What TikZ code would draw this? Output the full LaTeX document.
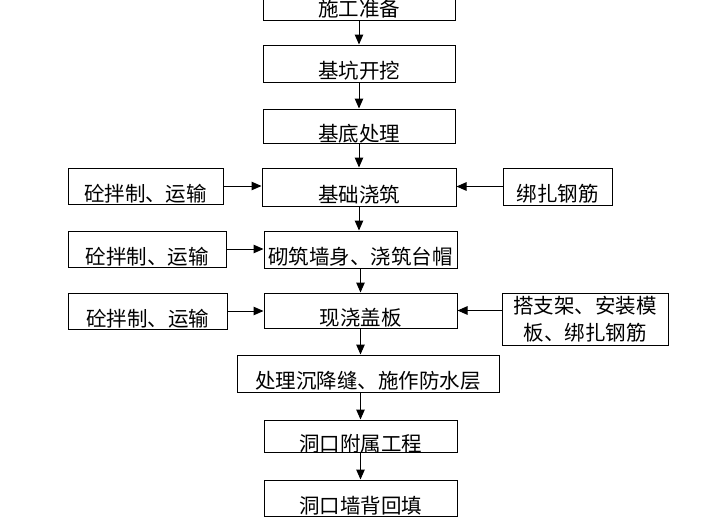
\documentclass[tikz,border=0pt]{standalone}
\usepackage{fontspec}
\setmainfont{Noto Sans CJK SC}
\usetikzlibrary{arrows.meta}
\newcommand{\lowtext}[1]{\raisebox{-15pt}[0pt][0pt]{#1}}

\begin{document}
\begin{tikzpicture}[x=1pt,y=1pt]
      \useasboundingbox (0,0) rectangle (705,-525);
      \clip (0,0) rectangle (705,-525);
      \begin{scope}[every node/.style={draw,line width=1pt,inner sep=0pt,minimum height=37pt,font=\fontsize{20.5pt}{24pt}\selectfont}]
        \node[minimum width=192pt] (prep) at (359,-1.5) {\lowtext{施工准备}};
        \node[minimum width=192pt] (pit) at (359,-63.5) {\lowtext{基坑开挖}};
        \node[minimum width=192pt,minimum height=34pt] (base) at (359,-126) {\lowtext{基底处理}};
        \node[minimum width=194pt,minimum height=38pt] (found) at (359,-187) {\lowtext{基础浇筑}};
        \node[minimum width=193pt] (wall) at (360.5,-249.5) {\lowtext{砌筑墙身、浇筑台帽}};
        \node[minimum width=193pt,minimum height=35pt] (slab) at (360.5,-310.5) {\lowtext{现浇盖板}};
        \node[minimum width=262pt] (joint) at (368,-373.5) {\lowtext{处理沉降缝、施作防水层}};
        \node[minimum width=193pt,minimum height=32pt] (portal) at (360.5,-436) {\lowtext{洞口附属工程}};
        \node[minimum width=193pt,minimum height=36pt] (fill) at (360.5,-498) {\lowtext{洞口墙背回填}};
        \node[minimum width=155pt,minimum height=36pt] (mix1) at (145.5,-186) {\lowtext{砼拌制、运输}};
        \node[minimum width=158pt,minimum height=36pt] (mix2) at (147,-249) {\lowtext{砼拌制、运输}};
        \node[minimum width=159pt,minimum height=36pt] (mix3) at (147.5,-311) {\lowtext{砼拌制、运输}};
        \node[minimum width=109pt] (rebar) at (557.5,-186.5) {\lowtext{绑扎钢筋}};
      \end{scope}
      \node[draw,line width=1pt,inner sep=0pt,minimum width=166pt,minimum height=52pt,align=center,font=\fontsize{20.5pt}{27pt}\selectfont] (form) at (585,-319) {搭支架、安装模\\板、绑扎钢筋};
      \begin{scope}[every edge/.style={draw,line width=1pt,-{Triangle[length=10pt,width=8.5pt]}}]
        \path (prep.south) edge (prep.south |- pit.north);
        \path (pit.south) edge (pit.south |- base.north);
        \path (base.south) edge (base.south |- found.north);
        \path (found.south) edge (found.south |- wall.north);
        \path (wall.south) edge (wall.south |- slab.north);
        \path (slab.south) edge (slab.south |- joint.north);
        \path (portal.north |- joint.south) edge (portal.north);
        \path (portal.south) edge (fill.north);
        \path (mix1.east) edge (mix1.east -| found.west);
        \path (mix2.east) edge (mix2.east -| wall.west);
        \path (mix3.east) edge (mix3.east -| slab.west);
        \path (rebar.west) edge (rebar.west -| found.east);
        \path (form.west |- slab.east) edge (slab.east);
      \end{scope}
    \end{tikzpicture}
\end{document}
